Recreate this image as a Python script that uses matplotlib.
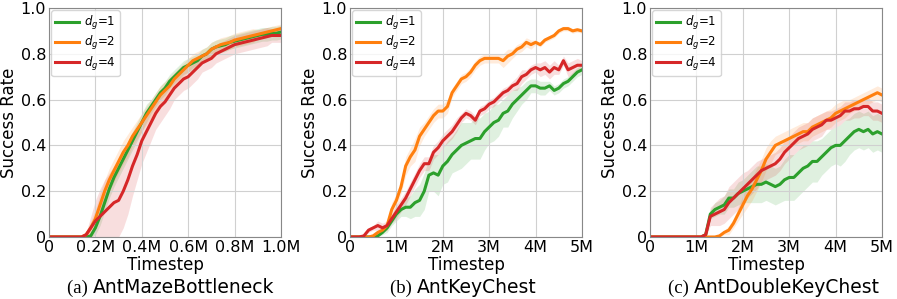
import numpy as np
import matplotlib.pyplot as plt

# timestep grids (in millions)
x_a = np.linspace(0, 1.0, 51)
x_bc = np.linspace(0, 5.0, 51)

# (a) AntMazeBottleneck
a_g1 = [0, 0, 0, 0, 0, 0, 0, 0, 0,
        0.005, 0.04, 0.09, 0.15, 0.21, 0.26, 0.30, 0.34, 0.38, 0.42, 0.46, 0.50, 0.54, 0.57, 0.60,
        0.63, 0.65, 0.68, 0.70, 0.72, 0.74, 0.75, 0.76, 0.77, 0.79, 0.80, 0.82, 0.83, 0.835, 0.84,
        0.85, 0.855, 0.86, 0.865, 0.87, 0.875, 0.88, 0.885, 0.885, 0.89, 0.89, 0.895]
a_g2 = [0, 0, 0, 0, 0, 0, 0, 0,
        0.01, 0.04, 0.08, 0.14, 0.20, 0.25, 0.29, 0.33, 0.37, 0.40, 0.44, 0.47, 0.50, 0.53, 0.56,
        0.59, 0.62, 0.64, 0.66, 0.69, 0.71, 0.73, 0.75, 0.77, 0.78, 0.79, 0.80, 0.82, 0.83, 0.84,
        0.845, 0.85, 0.86, 0.865, 0.87, 0.875, 0.88, 0.885, 0.89, 0.895, 0.90, 0.905, 0.91]
a_g4 = [0, 0, 0, 0, 0, 0, 0, 0,
        0.01, 0.04, 0.07, 0.09, 0.11, 0.13, 0.15, 0.16, 0.20, 0.25, 0.31, 0.36, 0.42, 0.46, 0.50,
        0.54, 0.57, 0.59, 0.62, 0.65, 0.67, 0.69, 0.70, 0.72, 0.74, 0.76, 0.77, 0.78, 0.80, 0.81,
        0.82, 0.83, 0.84, 0.845, 0.85, 0.855, 0.86, 0.865, 0.87, 0.875, 0.88, 0.88, 0.88]
a_g1_sd = [0, 0, 0, 0, 0, 0, 0, 0, 0,
           0.01, 0.03, 0.04, 0.04, 0.04, 0.04, 0.04, 0.04, 0.04, 0.04, 0.04, 0.04, 0.04, 0.03, 0.03,
           0.03, 0.03, 0.03, 0.03, 0.03, 0.03, 0.03, 0.03, 0.03, 0.03, 0.03, 0.03, 0.03, 0.03, 0.03,
           0.03, 0.03, 0.03, 0.03, 0.03, 0.03, 0.03, 0.03, 0.03, 0.03, 0.03, 0.03]
a_g2_sd = [0, 0, 0, 0, 0, 0, 0, 0,
           0.01, 0.03, 0.04, 0.05, 0.05, 0.05, 0.05, 0.05, 0.05, 0.05, 0.04, 0.04, 0.04, 0.04, 0.04,
           0.04, 0.04, 0.04, 0.04, 0.03, 0.03, 0.03, 0.03, 0.03, 0.03, 0.03, 0.03, 0.03, 0.03, 0.03,
           0.03, 0.03, 0.03, 0.03, 0.03, 0.03, 0.03, 0.02, 0.02, 0.02, 0.02, 0.02, 0.02]
a_g4_sd = [0, 0, 0, 0, 0, 0, 0, 0,
           0.01, 0.05, 0.09, 0.12, 0.14, 0.15, 0.16, 0.16, 0.16, 0.15, 0.13, 0.11, 0.10, 0.09, 0.08,
           0.07, 0.07, 0.06, 0.06, 0.05, 0.05, 0.05, 0.05, 0.05, 0.05, 0.04, 0.04, 0.04, 0.04, 0.04,
           0.04, 0.04, 0.04, 0.04, 0.04, 0.04, 0.04, 0.04, 0.04, 0.04, 0.03, 0.03, 0.03]

# (b) AntKeyChest
b_g1 = [0, 0, 0, 0, 0, 0,
        0.005, 0.02, 0.04, 0.07, 0.10, 0.12, 0.13, 0.13, 0.15, 0.16, 0.20, 0.27, 0.28, 0.27, 0.31,
        0.33, 0.36, 0.38, 0.40, 0.41, 0.42, 0.43, 0.43, 0.46, 0.48, 0.50, 0.51, 0.54, 0.55, 0.58,
        0.60, 0.62, 0.64, 0.66, 0.66, 0.65, 0.65, 0.66, 0.64, 0.65, 0.67, 0.68, 0.70, 0.72, 0.73]
b_g2 = [0, 0, 0, 0, 0, 0.005, 0.02, 0.03, 0.05, 0.12, 0.16, 0.22, 0.31, 0.35, 0.38, 0.44, 0.47,
        0.50, 0.53, 0.55, 0.55, 0.57, 0.63, 0.66, 0.69, 0.70, 0.72, 0.75, 0.77, 0.78, 0.78, 0.78,
        0.78, 0.77, 0.79, 0.80, 0.82, 0.83, 0.85, 0.84, 0.85, 0.84, 0.86, 0.87, 0.88, 0.90, 0.91,
        0.91, 0.90, 0.905, 0.90]
b_g4 = [0, 0, 0, 0.005, 0.03, 0.04, 0.05, 0.04, 0.05, 0.08, 0.11, 0.14, 0.17, 0.21, 0.25, 0.29,
        0.32, 0.32, 0.37, 0.39, 0.42, 0.44, 0.46, 0.49, 0.52, 0.54, 0.53, 0.51, 0.55, 0.56, 0.58,
        0.59, 0.61, 0.63, 0.64, 0.66, 0.67, 0.70, 0.71, 0.73, 0.74, 0.73, 0.74, 0.72, 0.74, 0.73,
        0.77, 0.73, 0.74, 0.75, 0.75]
b_g1_sd = [0, 0, 0, 0, 0, 0,
           0.005, 0.01, 0.02, 0.02, 0.03, 0.03, 0.04, 0.05, 0.06, 0.07, 0.08, 0.07, 0.08, 0.09, 0.08,
           0.09, 0.08, 0.09, 0.10, 0.09, 0.08, 0.09, 0.09, 0.08, 0.07, 0.08, 0.07, 0.06, 0.07, 0.06,
           0.05, 0.04, 0.04, 0.03, 0.03, 0.03, 0.03, 0.02, 0.02, 0.02, 0.02, 0.02, 0.02, 0.02, 0.02]
b_g2_sd = [0, 0, 0, 0, 0, 0.005, 0.01, 0.01, 0.02, 0.03, 0.03, 0.03, 0.04, 0.04, 0.05, 0.04,
           0.03, 0.03, 0.03, 0.03, 0.03, 0.03, 0.02, 0.02, 0.02, 0.02, 0.02, 0.02, 0.02, 0.02, 0.02,
           0.02, 0.02, 0.03, 0.03, 0.02, 0.02, 0.02, 0.02, 0.02, 0.01, 0.01, 0.01, 0.01, 0.01, 0.01,
           0.01, 0.01, 0.01, 0.01, 0.01]
b_g4_sd = [0, 0, 0, 0.005, 0.01, 0.01, 0.02, 0.02, 0.02, 0.02, 0.03, 0.03, 0.03, 0.03, 0.03, 0.03,
           0.03, 0.03, 0.03, 0.03, 0.03, 0.03, 0.03, 0.03, 0.02, 0.02, 0.02, 0.02, 0.02, 0.02, 0.02,
           0.02, 0.02, 0.02, 0.02, 0.02, 0.03, 0.03, 0.02, 0.02, 0.02, 0.03, 0.03, 0.03, 0.03, 0.02,
           0.02, 0.03, 0.03, 0.03, 0.02]

# (c) AntDoubleKeyChest
c_g1 = [0, 0, 0, 0, 0, 0, 0, 0, 0, 0, 0, 0,
        0.01, 0.10, 0.12, 0.13, 0.14, 0.17, 0.17, 0.19, 0.20, 0.21, 0.22, 0.23, 0.23, 0.24, 0.23,
        0.22, 0.23, 0.25, 0.26, 0.26, 0.28, 0.30, 0.31, 0.33, 0.33, 0.35, 0.37, 0.39, 0.40, 0.40,
        0.42, 0.44, 0.46, 0.47, 0.46, 0.47, 0.45, 0.46, 0.45]
c_g2 = [0, 0, 0, 0, 0, 0, 0, 0, 0, 0, 0, 0, 0, 0, 0,
        0.005, 0.02, 0.03, 0.06, 0.10, 0.14, 0.18, 0.21, 0.25, 0.29, 0.34, 0.37, 0.40, 0.41, 0.42,
        0.43, 0.44, 0.45, 0.46, 0.46, 0.48, 0.49, 0.50, 0.51, 0.52, 0.54, 0.55, 0.56, 0.57, 0.58,
        0.59, 0.60, 0.61, 0.62, 0.63, 0.62]
c_g4 = [0, 0, 0, 0, 0, 0, 0, 0, 0, 0, 0, 0,
        0.01, 0.09, 0.10, 0.11, 0.12, 0.15, 0.17, 0.19, 0.21, 0.23, 0.25, 0.27, 0.29, 0.30, 0.31,
        0.32, 0.34, 0.37, 0.39, 0.41, 0.43, 0.44, 0.45, 0.47, 0.48, 0.49, 0.51, 0.51, 0.52, 0.53,
        0.55, 0.55, 0.56, 0.56, 0.57, 0.57, 0.55, 0.55, 0.54]
c_g1_sd = [0, 0, 0, 0, 0, 0, 0, 0, 0, 0, 0, 0,
           0.01, 0.02, 0.03, 0.03, 0.04, 0.04, 0.04, 0.05, 0.05, 0.06, 0.07, 0.08, 0.08, 0.08, 0.08,
           0.08, 0.08, 0.09, 0.10, 0.10, 0.10, 0.10, 0.09, 0.09, 0.09, 0.08, 0.08, 0.08, 0.08, 0.09,
           0.09, 0.08, 0.08, 0.08, 0.08, 0.08, 0.08, 0.08, 0.08]
c_g2_sd = [0, 0, 0, 0, 0, 0, 0, 0, 0, 0, 0, 0, 0, 0, 0,
           0.005, 0.01, 0.02, 0.02, 0.03, 0.04, 0.05, 0.05, 0.05, 0.05, 0.05, 0.05, 0.04, 0.04, 0.04,
           0.04, 0.04, 0.04, 0.04, 0.04, 0.04, 0.04, 0.04, 0.04, 0.04, 0.04, 0.04, 0.04, 0.03, 0.03,
           0.03, 0.03, 0.03, 0.03, 0.03, 0.03]
c_g4_sd = [0, 0, 0, 0, 0, 0, 0, 0, 0, 0, 0, 0,
           0.01, 0.04, 0.05, 0.06, 0.06, 0.07, 0.07, 0.07, 0.07, 0.06, 0.06, 0.06, 0.05, 0.05, 0.05,
           0.05, 0.05, 0.05, 0.05, 0.05, 0.05, 0.05, 0.05, 0.05, 0.05, 0.05, 0.04, 0.04, 0.04, 0.04,
           0.04, 0.04, 0.04, 0.04, 0.04, 0.04, 0.04, 0.04, 0.04]

labels = ['$d_g$=1', '$d_g$=2', '$d_g$=4']
colors = ['#2ca02c', '#ff7f0e', '#d62728']

panels = [
    ('(a)', 'AntMazeBottleneck', x_a, [a_g1, a_g2, a_g4], [a_g1_sd, a_g2_sd, a_g4_sd],
     [0, 0.2, 0.4, 0.6, 0.8, 1.0], ['0', '0.2M', '0.4M', '0.6M', '0.8M', '1.0M']),
    ('(b)', 'AntKeyChest', x_bc, [b_g1, b_g2, b_g4], [b_g1_sd, b_g2_sd, b_g4_sd],
     [0, 1, 2, 3, 4, 5], ['0', '1M', '2M', '3M', '4M', '5M']),
    ('(c)', 'AntDoubleKeyChest', x_bc, [c_g1, c_g2, c_g4], [c_g1_sd, c_g2_sd, c_g4_sd],
     [0, 1, 2, 3, 4, 5], ['0', '1M', '2M', '3M', '4M', '5M']),
]

W, H = 897, 299
fig = plt.figure(figsize=(W / 100, H / 100), dpi=100)

lefts = [49, 350, 650]
cap_x = [67, 390, 668]

for i, (tag, name, xs, ys, sds, xt, xtl) in enumerate(panels):
    ax = fig.add_axes([lefts[i] / W, 1 - 237 / H, 232 / W, 229 / H])
    for y, sd, c, lab in zip(ys, sds, colors, labels):
        y = np.array(y)
        sd = np.array(sd)
        ax.fill_between(xs, np.clip(y - sd, 0, 1), np.clip(y + sd, 0, 1), color=c, alpha=0.15, lw=0)
        ax.plot(xs, y, color=c, lw=2.2, label=lab)
    ax.set_xlim(xt[0], xt[-1])
    ax.set_ylim(0, 1)
    ax.set_xticks(xt)
    ax.set_xticklabels(xtl)
    ax.set_yticks([0, 0.2, 0.4, 0.6, 0.8, 1.0])
    ax.set_yticklabels(['0', '0.2', '0.4', '0.6', '0.8', '1.0'])
    ax.tick_params(labelsize=11.5, length=0, pad=2)
    ax.grid(True, color='#d0d0d0', lw=0.8)
    for s in ax.spines.values():
        s.set_color('#888888')
    ax.set_xlabel('Timestep', fontsize=12, labelpad=1)
    ax.set_ylabel('Success Rate', fontsize=12, labelpad=2)
    ax.legend(loc='upper left', fontsize=8.5, handlelength=2.0, handletextpad=0.5,
              borderaxespad=0.2, borderpad=0.3, labelspacing=0.2, framealpha=0.8)
    t1 = fig.text(cap_x[i] / W, 1 - 293 / H, tag + ' ', fontsize=13.5, family='Liberation Serif',
                  va='baseline')
    fig.canvas.draw()
    bb = t1.get_window_extent()
    fig.text(bb.x1 / W, 1 - 293 / H, name, fontsize=13.5, va='baseline')

fig.savefig('out.png', dpi=100)
